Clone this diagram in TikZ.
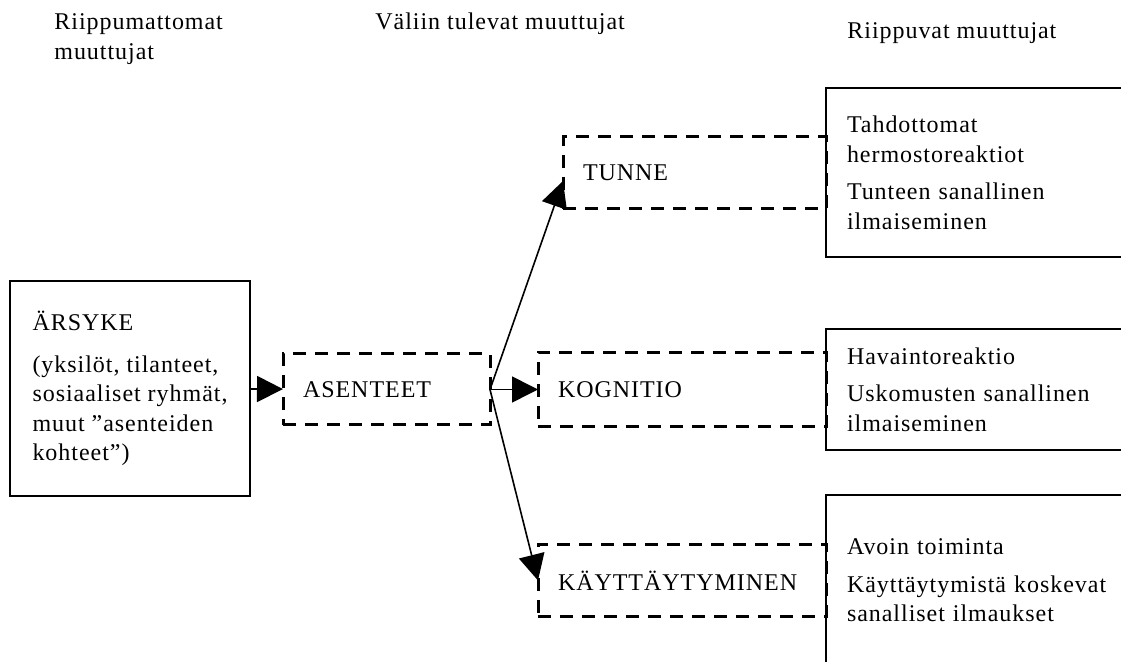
\documentclass[tikz,border=0pt]{standalone}
\usepackage{fontspec}
\setmainfont[LetterSpace=4]{Liberation Serif}
\usetikzlibrary{positioning, arrows.meta}

\tikzset{
  lbox/.style={draw, line width=1pt, align=left, outer sep=0pt},
  rbox/.style={draw, line width=1pt, align=left, outer sep=0pt,
               text width=150pt, inner xsep=10.5pt},
  dbox/.style={draw, line width=1.5pt, dash pattern=on 6.5pt off 4.5pt,
               align=left, inner xsep=10pt, outer sep=0pt},
  hd/.style={align=left, anchor=west, inner sep=0pt},
}

\begin{document}
\begin{tikzpicture}[x=0.5pt,y=-0.5pt,node distance=24pt,
    >={Triangle[length=13pt,width=13pt]},
    font=\fontsize{12}{14.75}\selectfont]
  \clip (0,0) rectangle (1121,662);
  % otsikot
  \node[hd] (h1) at (54,39)  {Riippumattomat\\muuttujat};
  \node[hd] (h2) at (375,24) {Väliin tulevat muuttujat};
  \node[hd] (h3) at (847,33) {Riippuvat muuttujat};
  % laatikot
  \node[lbox, minimum width=120pt, minimum height=107.5pt] (ars) at (130,388.5)
    {ÄRSYKE\\[6pt](yksilöt, tilanteet,\\sosiaaliset ryhmät,\\muut ”asenteiden\\kohteet”)};
  \node[dbox, text width=83.5pt, minimum height=35.5pt] (ase) at (386.5,389.5) {ASENTEET};
  \node[dbox, text width=124pt, minimum height=37pt] (kog) [right=of ase] {KOGNITIO};
  \node[dbox, text width=124pt, minimum height=36pt] (kay) [below=59pt of kog] {KÄYTTÄYTYMINEN};
  \node[dbox, text width=111.5pt, minimum height=36pt] (tun) at (694.5,173) {TUNNE};
  \node[rbox, minimum height=84.5pt] (r1) [right=0pt of tun]
    {Tahdottomat\\hermostoreaktiot\\[4pt]Tunteen sanallinen\\ilmaiseminen};
  \node[rbox, minimum height=60.5pt] (r2) [right=0pt of kog]
    {Havaintoreaktio\\[4pt]Uskomusten sanallinen\\ilmaiseminen};
  \node[rbox, minimum height=85pt] (r3) [right=0pt of kay]
    {Avoin toiminta\\[4pt]Käyttäytymistä koskevat\\sanalliset ilmaukset};
  % nuolet
  \path[->, line width=0.8pt] (ars) edge (ase)
                              (ase.east) edge (kog)
                              (ase.east) edge ([yshift=-4pt]tun.west)
                              (ase.east) edge (kay.west);
\end{tikzpicture}
\end{document}
